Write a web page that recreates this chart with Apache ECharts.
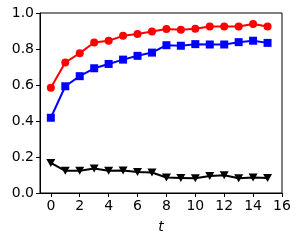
<!DOCTYPE html>
<html><head><meta charset="utf-8">
<script src="https://cdn.jsdelivr.net/npm/echarts@6/dist/echarts.min.js"></script>
<style>html,body{margin:0;padding:0;background:#fff}#c{width:299px;height:243px}</style>
</head><body><div id="c"></div>
<script>
const t = [0,1,2,3,4,5,6,7,8,9,10,11,12,13,14,15];
const redVals = [0.585,0.725,0.777,0.836,0.846,0.873,0.883,0.897,0.911,0.907,0.912,0.925,0.925,0.925,0.939,0.925];
const blueVals = [0.418,0.593,0.649,0.693,0.717,0.741,0.762,0.780,0.821,0.818,0.827,0.825,0.825,0.838,0.846,0.834];
const blackVals = [0.167,0.123,0.123,0.136,0.123,0.125,0.117,0.114,0.086,0.084,0.082,0.095,0.099,0.082,0.086,0.084];
const xTicks = [0,2,4,6,8,10,12,14,16];
const yTicks = [0,0.2,0.4,0.6,0.8,1.0];
const font = 'DejaVu Sans';
const pair = v => t.map((x,i)=>[x,v[i]]);
const chart = echarts.init(document.getElementById('c'), null, {renderer:'canvas'});
chart.setOption({
  animation:false,
  grid:{left:40,top:13,right:17,bottom:50,show:true,borderColor:'#000',borderWidth:1,backgroundColor:'transparent'},
  xAxis:{type:'value',min:-0.75,max:16,
    name:'t',nameLocation:'middle',nameGap:27,
    nameTextStyle:{fontFamily:font,fontStyle:'italic',fontSize:14,color:'#000'},
    axisLine:{show:true,onZero:false,lineStyle:{color:'#000',width:1}},
    axisTick:{show:true,length:4,customValues:xTicks,lineStyle:{color:'#000'}},
    axisLabel:{customValues:xTicks,fontFamily:font,fontSize:14,color:'#000',margin:6,formatter:v=>String(v)},
    splitLine:{show:false}},
  yAxis:{type:'value',min:0,max:1,interval:0.2,
    axisLine:{show:true,onZero:false,lineStyle:{color:'#000',width:1}},
    axisTick:{show:true,length:4,customValues:yTicks,lineStyle:{color:'#000'}},
    axisLabel:{customValues:yTicks,fontFamily:font,fontSize:14,color:'#000',margin:6,formatter:v=>v.toFixed(1)},
    splitLine:{show:false}},
  series:[
    {type:'line',data:pair(redVals),symbol:'circle',symbolSize:8,color:'#ff0000',
     lineStyle:{width:2,color:'#ff0000'},itemStyle:{color:'#ff0000'}},
    {type:'line',data:pair(blueVals),symbol:'rect',symbolSize:8,color:'#0000ff',
     lineStyle:{width:2,color:'#0000ff'},itemStyle:{color:'#0000ff'}},
    {type:'line',data:pair(blackVals),symbol:'triangle',symbolRotate:180,symbolSize:[9,8],color:'#000',
     lineStyle:{width:2,color:'#000'},itemStyle:{color:'#000'}}
  ]
});
</script></body></html>
